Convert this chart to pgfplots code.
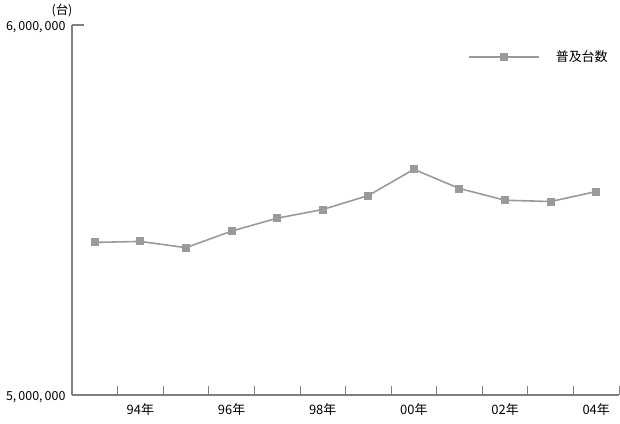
\documentclass[border=0pt]{standalone}
\usepackage{pgfplots}
\pgfplotsset{compat=1.18}
\usepackage{fontspec}
\setmainfont{Noto Sans CJK JP}
\definecolor{lg}{HTML}{9A9A9A}
\definecolor{ax}{HTML}{808080}
\begin{document}
\begin{tikzpicture}[x=1bp,y=1bp]
\useasboundingbox (-72bp,-29bp) rectangle (548bp,395bp);
\begin{axis}[
  at={(0,0)}, anchor=south west,
  scale only axis, width=547bp, height=370bp,
  xmin=0.5, xmax=12.5, ymin=5000000, ymax=6000000,
  scaled y ticks=false,
  axis x line=bottom, axis y line=left,
  axis line style={-, ax, line width=1.2bp},
  xtick={2,4,...,12},
  xticklabels={94年,96年,98年,00年,02年,04年},
  major x tick style={draw=none},
  minor xtick={1.5,2.5,...,12.5},
  minor x tick style={ax, line width=0.8bp},
  minor tick length=9bp,
  tick align=inside,
  ytick={5000000,6000000},
  yticklabels={{5,\,000,\,000},{6,\,000,\,000}},
  major y tick style={ax, line width=1.2bp},
  major tick length=12bp,
  xticklabel style={font=\fontsize{13}{14}\selectfont, yshift=-5bp},
  yticklabel style={font=\fontsize{12.5}{14}\selectfont, xshift=-3bp, yshift=-2bp},
  legend style={at={(rel axis cs:0.724,0.9135)}, anchor=west, draw=none, fill=none,
    inner sep=0pt, font=\fontsize{13}{14}\selectfont, legend cell align=left},
  legend image code/.code={\draw[mark repeat=2,mark phase=2,#1] plot coordinates {(0bp,0bp) (35bp,0bp) (70bp,0bp)};},
  clip=false,
]
\addplot[lg, line width=1.6bp, mark=square*, mark size=3.2bp, mark options={fill=lg, draw=lg}]
coordinates {
(1,5412400) (2,5415100) (3,5398100) (4,5442900) (5,5477900) (6,5501300)
(7,5539100) (8,5610000) (9,5558000) (10,5526400) (11,5522900) (12,5549900)
};
\addlegendentry{\hspace{14bp}普及台数}
\end{axis}
\node[font=\fontsize{12.5}{14}\selectfont] at (-10bp,385bp) {(台)};
\end{tikzpicture}
\end{document}
